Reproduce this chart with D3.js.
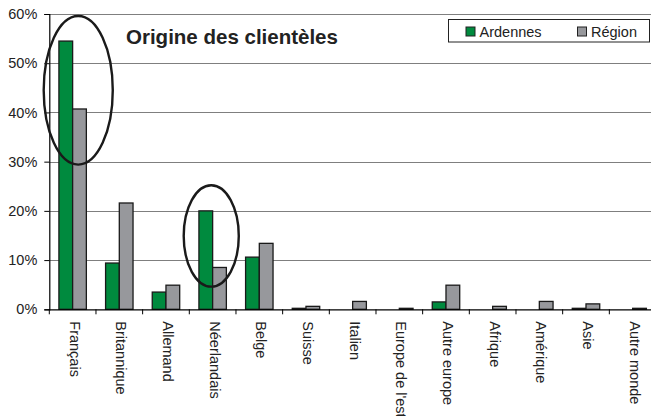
<!DOCTYPE html>
<html>
<head>
<meta charset="utf-8">
<script src="https://cdn.jsdelivr.net/npm/d3@7"></script>
<style>
  html, body { margin: 0; padding: 0; background: #fff; }
  svg { display: block; font-family: "Liberation Sans", Arial, sans-serif; }
  svg text { font-family: "Liberation Sans", Arial, sans-serif; }
</style>
</head>
<body>
<svg id="chart" width="651" height="416"></svg>
<script>
const categories = ["Français", "Britannique", "Allemand", "Néerlandais", "Belge", "Suisse", "Italien", "Europe de l'est", "Autre europe", "Afrique", "Amérique", "Asie", "Autre monde"];
const ardennes = [54.5, 9.4, 3.5, 20.0, 10.6, 0.2, 0.0, 0.0, 1.5, 0.0, 0.0, 0.2, 0.0];
const region   = [40.7, 21.6, 4.9, 8.5, 13.4, 0.6, 1.6, 0.2, 4.9, 0.6, 1.6, 1.1, 0.2];
const seriesNames = ["Ardennes", "Région"];
const yTicks = [0, 10, 20, 30, 40, 50, 60];
const title = "Origine des clientèles";
// annotation ellipses: category, centre value, horizontal offset (fraction of band), radius values
const highlights = [
  { cat: "Français", cy: 44.5, dx: 0.12, rxBand: 0.74, ry: 15.1 },
  { cat: "Néerlandais", cy: 14.9, dx: -0.03, rxBand: 0.59, ry: 10.3 }
];

const colors = ["#008a3e", "#97989c"];
const svg = d3.select("#chart");
const m = { left: 49.3, top: 14, right: 656, bottom: 309.3 };

const x = d3.scaleBand().domain(categories).range([m.left, m.right]).paddingInner(0).paddingOuter(0);
const barW = x.bandwidth() / 3.4;
const gapOff = (x.bandwidth() - 2 * barW) / 2;
const y = d3.scaleLinear().domain([0, 60]).range([m.bottom, m.top]);

// gridlines
svg.append("g").selectAll("line").data(yTicks.filter(d => d > 0)).join("line")
  .attr("x1", m.left).attr("x2", m.right)
  .attr("y1", d => Math.round(y(d)) + 0.5).attr("y2", d => Math.round(y(d)) + 0.5)
  .attr("stroke", "#7f7f7f").attr("stroke-width", 1.2);

// y axis
const yAxis = d3.axisLeft(y).tickValues(yTicks).tickFormat(d => d + "%").tickSize(5).tickPadding(7);
const gy = svg.append("g").attr("transform", `translate(${m.left},0)`).call(yAxis)
  .attr("font-family", null).attr("font-size", null);
gy.select(".domain").attr("stroke", "#000").attr("stroke-width", 1.2);
gy.selectAll(".tick line").attr("stroke", "#000");
gy.selectAll(".tick text").attr("font-size", "14.5px").attr("fill", "#222");

// bars
const data = categories.map((c, i) => ({ c, vals: [ardennes[i], region[i]] }));
const groups = svg.append("g").selectAll("g").data(data).join("g")
  .attr("transform", d => `translate(${x(d.c) + gapOff},0)`);
groups.selectAll("rect").data(d => d.vals.map((v, k) => ({ v, k }))).join("rect")
  .filter(d => d.v > 0)
  .attr("x", d => d.k * barW)
  .attr("y", d => y(d.v))
  .attr("width", barW)
  .attr("height", d => y(0) - y(d.v))
  .attr("fill", d => colors[d.k])
  .attr("stroke", "#1a1a1a").attr("stroke-width", 1.3);

// x axis
const xAxis = d3.axisBottom(x).tickSize(0).tickFormat("");
const gx = svg.append("g").attr("transform", `translate(0,${m.bottom})`).call(xAxis);
gx.select(".domain").attr("stroke", "#000").attr("stroke-width", 1.2);
gx.selectAll(".tick").remove();
// tick marks between categories
svg.append("g").selectAll("line").data(categories).join("line")
  .attr("x1", d => x(d)).attr("x2", d => x(d))
  .attr("y1", m.bottom).attr("y2", m.bottom + 5)
  .attr("stroke", "#000").attr("stroke-width", 1);

// x labels rotated
svg.append("g").selectAll("text").data(categories).join("text")
  .attr("transform", d => `translate(${x(d) + x.bandwidth() / 2 - 3},${m.bottom + 12}) rotate(90)`)
  .attr("text-anchor", "start")
  .attr("font-size", "14.5px").attr("fill", "#222")
  .text(d => d);

// ellipses
svg.append("g").selectAll("ellipse").data(highlights).join("ellipse")
  .attr("cx", d => x(d.cat) + x.bandwidth() * (0.5 + d.dx))
  .attr("cy", d => y(d.cy))
  .attr("rx", d => x.bandwidth() * d.rxBand)
  .attr("ry", d => y(0) - y(d.ry))
  .attr("fill", "none").attr("stroke", "#1a1a1a").attr("stroke-width", 2.4);

// title
svg.append("text").attr("x", 126).attr("y", 44)
  .attr("font-size", "20.5px").attr("font-weight", "bold").attr("fill", "#222")
  .text(title);

// legend
const lg = svg.append("g");
lg.append("rect").attr("x", 448.5).attr("y", 19.5).attr("width", 201).attr("height", 22.5)
  .attr("fill", "#fff").attr("stroke", "#222").attr("stroke-width", 1);
const legendX = [466, 577.5];
seriesNames.forEach((s, k) => {
  lg.append("rect").attr("x", legendX[k]).attr("y", 27).attr("width", 9).attr("height", 9)
    .attr("fill", colors[k]).attr("stroke", "#222").attr("stroke-width", 1);
  lg.append("text").attr("x", legendX[k] + 13.5).attr("y", 36.5)
    .attr("font-size", "14.5px").attr("fill", "#222").text(s);
});
</script>
</body>
</html>
